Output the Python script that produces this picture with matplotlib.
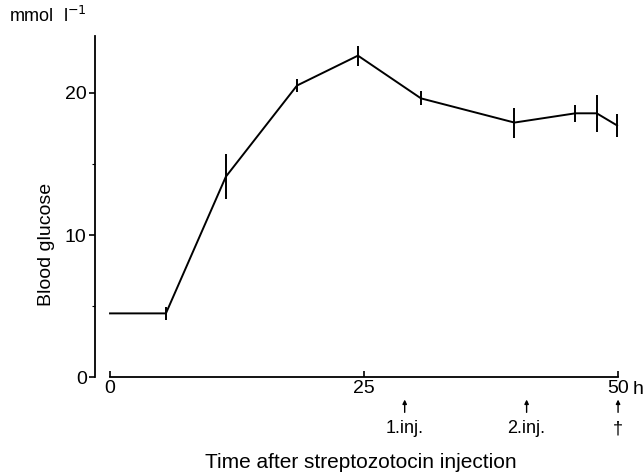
import matplotlib.pyplot as plt
import numpy as np

# blood glucose (mmol/l) after streptozotocin injection
hours = [0, 5.5, 11.4, 18.4, 24.4, 30.6, 39.8, 45.8, 47.9, 49.9]
glucose = [4.5, 4.5, 14.1, 20.5, 22.6, 19.6, 17.9, 18.55, 18.55, 17.7]
sem = [0, 0.45, 1.6, 0.45, 0.7, 0.5, 1.05, 0.6, 1.3, 0.8]

inj_hours = [29, 41, 50]
inj_labels = ['1.inj.', '2.inj.', '\u2020']

plt.rcParams['font.family'] = ['Liberation Sans', 'DejaVu Sans']

fig = plt.figure(figsize=(6.44, 4.76), dpi=100)
ax = fig.add_axes([0.1475, 0.207, 0.828, 0.718])

ax.plot(hours, glucose, color='black', lw=1.4)
ax.errorbar(hours[1:], glucose[1:], yerr=sem[1:], fmt='none', ecolor='black',
            elinewidth=1.4, capsize=0)

ax.set_xlim(-1.48, 51)
ax.set_ylim(0, 24)
ax.spines['top'].set_visible(False)
ax.spines['right'].set_visible(False)
ax.spines['bottom'].set_bounds(0, 50)
ax.spines['left'].set_bounds(0, 24)
for s in ['bottom', 'left']:
    ax.spines[s].set_linewidth(1.3)

ax.set_xticks([0, 25, 50])
ax.set_xticklabels(['0', '25', '50'])
ax.set_yticks([0, 10, 20])
ax.set_yticks([5, 15], minor=True)
ax.tick_params(axis='x', direction='in', length=4, width=1.2, labelsize=14, pad=2)
ax.tick_params(axis='y', direction='out', length=4, width=1.2, labelsize=14, pad=2)
ax.tick_params(axis='y', which='minor', direction='out', length=2, width=0.8)

ax.annotate('h', xy=(50, 0), xytext=(10.5, -2.5), textcoords='offset points',
            fontsize=14, ha='left', va='top', annotation_clip=False)

for h, lab in zip(inj_hours, inj_labels):
    ax.annotate('', xy=(h, -1.55), xytext=(h, -2.45), annotation_clip=False,
                arrowprops=dict(arrowstyle='-|>', color='black', lw=1.0,
                                mutation_scale=6, shrinkA=0, shrinkB=0))
    ax.text(h, -3.0, lab, fontsize=13, ha='center', va='top')

ax.set_ylabel('Blood glucose', fontsize=14)
ax.yaxis.set_label_coords(-0.075, 0.39)
fig.text(0.561, 0.008, 'Time after streptozotocin injection',
         fontsize=15, ha='center', va='bottom')
fig.text(0.014, 0.945, 'mmol  l$^{-1}$', fontsize=13, ha='left', va='bottom')

fig.savefig('out.png', dpi=100)
